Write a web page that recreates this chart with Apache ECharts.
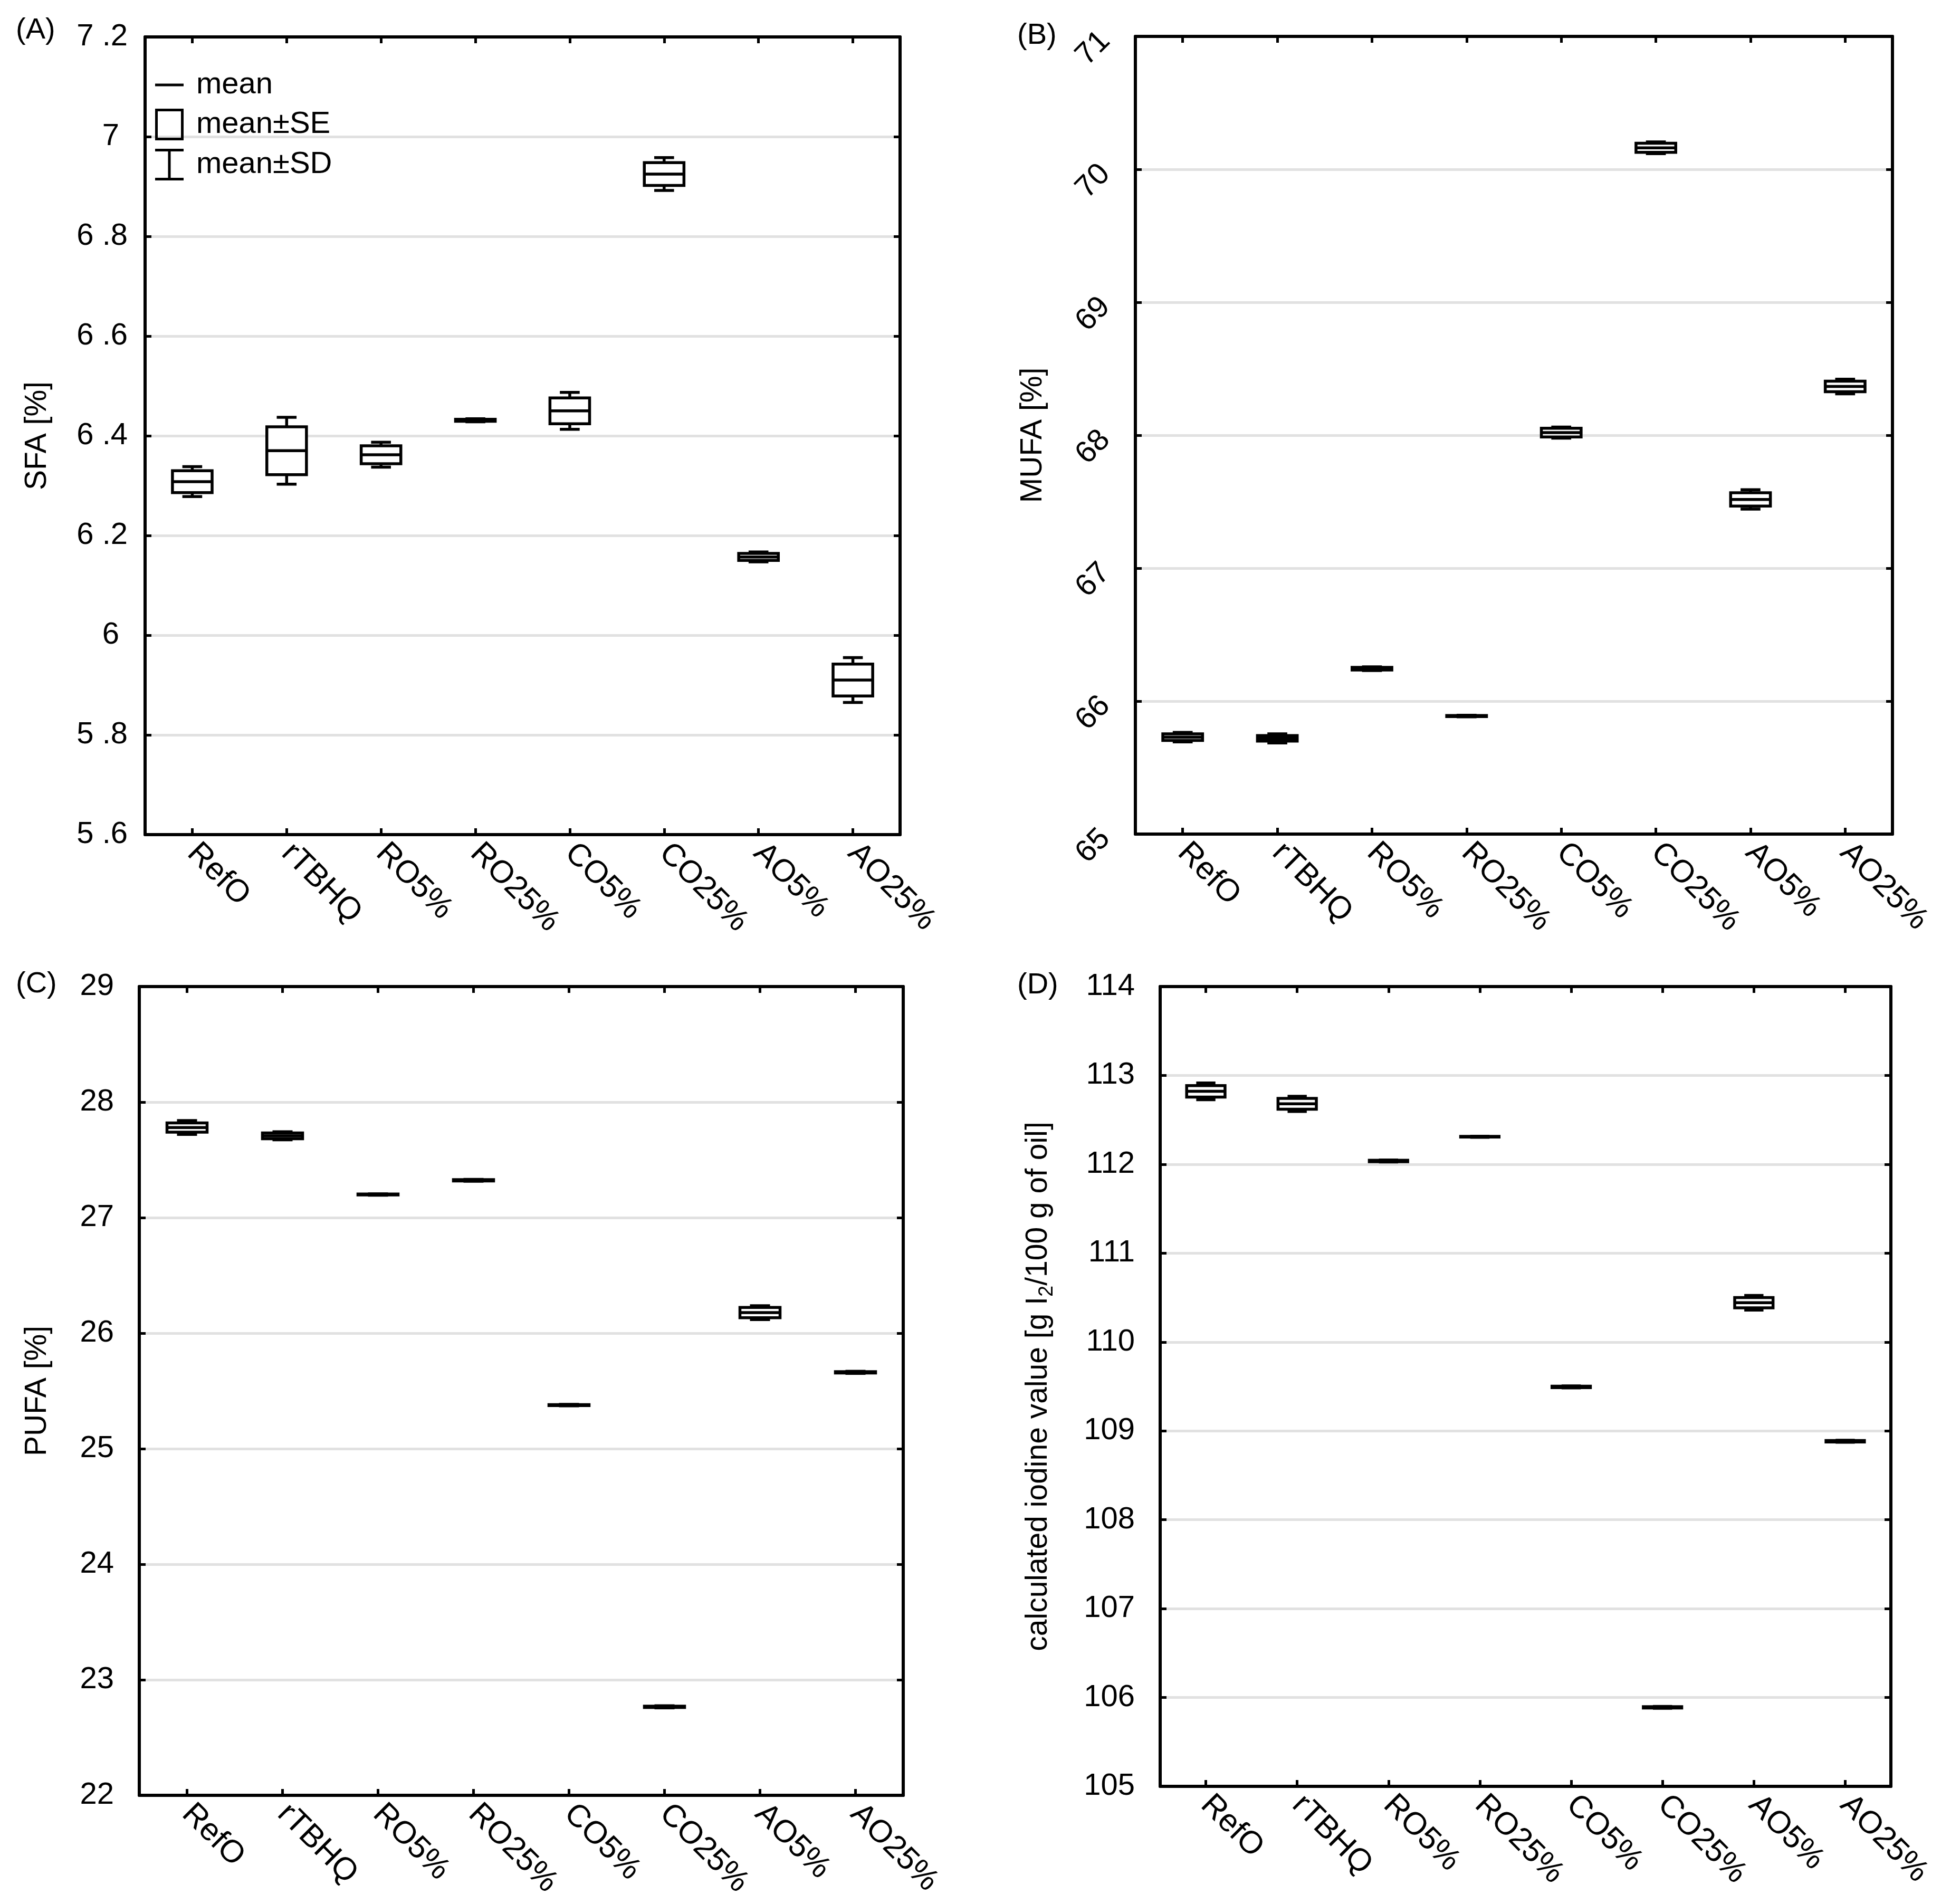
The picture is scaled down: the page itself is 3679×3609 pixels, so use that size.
<!DOCTYPE html>
<html>
<head>
<meta charset="utf-8">
<script src="https://cdn.jsdelivr.net/npm/echarts@6/dist/echarts.min.js"></script>
<style>
html,body{margin:0;padding:0;background:#fff;}
#main{width:3679px;height:3609px;}
</style>
</head>
<body>
<div id="main"></div>
<script>
// ---------------- data ----------------
const categories = ['RefO', 'rTBHQ', 'RO5%', 'RO25%', 'CO5%', 'CO25%', 'AO5%', 'AO25%'];

const sfaMean = [6.308, 6.370, 6.362, 6.431, 6.450, 6.925, 6.157, 5.910];
const sfaSE   = [0.022, 0.048, 0.018, 0.002, 0.026, 0.023, 0.007, 0.032];
const sfaSD   = [0.030, 0.067, 0.025, 0.003, 0.037, 0.033, 0.010, 0.045];

const mufaMean = [65.729, 65.720, 66.244, 65.888, 68.020, 70.162, 67.517, 68.367];
const mufaSE   = [0.025, 0.021, 0.010, 0.004, 0.033, 0.034, 0.050, 0.040];
const mufaSD   = [0.036, 0.034, 0.014, 0.006, 0.042, 0.044, 0.073, 0.055];

const pufaMean = [27.780, 27.708, 27.200, 27.323, 25.377, 22.766, 26.178, 25.661];
const pufaSE   = [0.040, 0.025, 0.004, 0.006, 0.004, 0.006, 0.045, 0.006];
const pufaSD   = [0.060, 0.035, 0.006, 0.008, 0.006, 0.009, 0.060, 0.009];

const iodMean = [112.821, 112.680, 112.037, 112.310, 109.495, 105.889, 110.442, 108.883];
const iodSE   = [0.065, 0.061, 0.008, 0.004, 0.008, 0.008, 0.058, 0.008];
const iodSD   = [0.094, 0.085, 0.011, 0.006, 0.011, 0.011, 0.082, 0.011];

const sfaTicks  = {min: 5.6, max: 7.2, interval: 0.2};
const mufaTicks = {min: 65, max: 71, interval: 1};
const pufaTicks = {min: 22, max: 29, interval: 1};
const iodTicks  = {min: 105, max: 114, interval: 1};

// ---------------- styling ----------------
const FONT = 'Liberation Sans';
const LW = 5.5;
const BOX_FRAC = 0.42;

function rows(mean, se, sd) {
  return categories.map((c, i) => [i, mean[i], se[i], sd[i]]);
}

function renderSD(params, api) {
  const x = api.value(0), m = api.value(1), se = api.value(2), sd = api.value(3);
  const band = api.size([1, 0])[0];
  const cw = band * BOX_FRAC * 0.5;
  const cx = api.coord([x, m])[0];
  const yTop = api.coord([x, m + sd])[1];
  const yBot = api.coord([x, m - sd])[1];
  const ySeT = api.coord([x, m + se])[1];
  const ySeB = api.coord([x, m - se])[1];
  const st = {stroke: '#000', lineWidth: LW, lineCap: 'butt'};
  return {type: 'group', children: [
    {type: 'line', shape: {x1: cx, y1: yTop, x2: cx, y2: ySeT}, style: st},
    {type: 'line', shape: {x1: cx, y1: yBot, x2: cx, y2: ySeB}, style: st},
    {type: 'line', shape: {x1: cx - cw / 2, y1: yTop, x2: cx + cw / 2, y2: yTop}, style: st},
    {type: 'line', shape: {x1: cx - cw / 2, y1: yBot, x2: cx + cw / 2, y2: yBot}, style: st}
  ]};
}
function renderSE(params, api) {
  const x = api.value(0), m = api.value(1), se = api.value(2);
  const band = api.size([1, 0])[0];
  const w = band * BOX_FRAC;
  const cx = api.coord([x, m])[0];
  const yT = api.coord([x, m + se])[1];
  const yB = api.coord([x, m - se])[1];
  return {type: 'rect', shape: {x: cx - w / 2, y: yT, width: w, height: yB - yT},
          style: {fill: '#fff', stroke: '#000', lineWidth: LW}};
}
function renderMean(params, api) {
  const x = api.value(0), m = api.value(1);
  const band = api.size([1, 0])[0];
  const w = band * BOX_FRAC;
  const c = api.coord([x, m]);
  return {type: 'line', shape: {x1: c[0] - w / 2, y1: c[1], x2: c[0] + w / 2, y2: c[1]},
          style: {stroke: '#000', lineWidth: LW}};
}

const grids = [
  {left: 275, top: 70, width: 1431, height: 1512},
  {left: 2152, top: 69, width: 1435, height: 1512},
  {left: 264, top: 1870, width: 1448, height: 1533},
  {left: 2199, top: 1870, width: 1385, height: 1516}
];

const panels = [
  {ticks: sfaTicks, name: 'SFA [%]', nameGap: 168, mean: sfaMean, se: sfaSE, sd: sfaSD, rotate: 0, margin: 33, pad: 0,
   fmt: v => (Math.abs(v - Math.round(v)) < 1e-9 ? String(Math.round(v)) + ' ' : v.toFixed(1).replace('.', ' .'))},
  {ticks: mufaTicks, name: 'MUFA [%]', nameGap: 158, mean: mufaMean, se: mufaSE, sd: mufaSD, rotate: 45, margin: 57, pad: [30, 0, 0, 0],
   fmt: v => String(Math.round(v))},
  {ticks: pufaTicks, name: 'PUFA [%]', nameGap: 157, mean: pufaMean, se: pufaSE, sd: pufaSD, rotate: 0, margin: 48, pad: 0,
   fmt: v => String(Math.round(v))},
  {ticks: iodTicks, name: 'calculated iodine value [g I{s|2}/100 g of oil]', nameGap: 195, mean: iodMean, se: iodSE, sd: iodSD, rotate: 0, margin: 48, pad: 0,
   fmt: v => String(Math.round(v))}
];

const xAxes = [], yAxes = [], series = [];
const axisLine = {show: true, lineStyle: {color: '#000', width: 6}};
const axisTick = {show: true, inside: true, length: 12, lineStyle: {color: '#000', width: 5}};

panels.forEach((p, g) => {
  xAxes.push({
    type: 'category', gridIndex: g, data: categories, position: 'bottom',
    axisLine, axisTick: Object.assign({alignWithLabel: true}, axisTick),
    axisLabel: {rotate: -45, fontSize: 60, color: '#000', fontFamily: FONT, margin: 26, interval: 0},
    splitLine: {show: false}
  });
  xAxes.push({
    type: 'category', gridIndex: g, data: categories, position: 'top',
    axisLine, axisTick: Object.assign({alignWithLabel: true}, axisTick),
    axisLabel: {show: false}, splitLine: {show: false}
  });
  yAxes.push({
    type: 'value', gridIndex: g, position: 'left',
    min: p.ticks.min, max: p.ticks.max, interval: p.ticks.interval,
    axisLine, axisTick,
    axisLabel: {fontSize: 58, color: '#000', fontFamily: FONT, margin: p.margin, rotate: p.rotate, padding: p.pad, formatter: p.fmt},
    splitLine: {show: true, lineStyle: {color: '#e1e1e1', width: 5}},
    name: p.name, nameLocation: 'middle', nameGap: p.nameGap,
    nameTextStyle: {fontSize: 57, color: '#000', fontFamily: FONT, lineHeight: 72,
      rich: {s: {fontSize: 38, fontFamily: FONT, color: '#000', verticalAlign: 'bottom', lineHeight: 38}}}
  });
  yAxes.push({
    type: 'value', gridIndex: g, position: 'right',
    min: p.ticks.min, max: p.ticks.max, interval: p.ticks.interval,
    axisLine, axisTick, axisLabel: {show: false}, splitLine: {show: false}
  });
  const d = rows(p.mean, p.se, p.sd);
  const common = {type: 'custom', xAxisIndex: 2 * g, yAxisIndex: 2 * g, data: d,
                  encode: {x: 0, y: 1}, itemStyle: {color: '#000'}, silent: true, animation: false};
  series.push(Object.assign({name: 'mean±SD', renderItem: renderSD}, common));
  series.push(Object.assign({name: 'mean±SE', renderItem: renderSE}, common));
  series.push(Object.assign({name: 'mean', renderItem: renderMean}, common));
});

const titles = [
  {text: '(A)', left: 30, top: 30},
  {text: '(B)', left: 1928, top: 40},
  {text: '(C)', left: 30, top: 1838},
  {text: '(D)', left: 1928, top: 1840}
].map(t => Object.assign(t, {textStyle: {fontSize: 56, fontWeight: 'normal', color: '#000', fontFamily: FONT}, padding: 0}));

const option = {
  backgroundColor: '#fff',
  animation: false,
  textStyle: {fontFamily: FONT},
  title: titles,
  legend: {
    orient: 'vertical', left: 294, top: 132, padding: 0, itemGap: 16,
    itemWidth: 54, itemHeight: 60, selectedMode: false,
    textStyle: {fontSize: 58, color: '#000', fontFamily: FONT, padding: [0, 0, 0, 19]},
    itemStyle: {borderWidth: 0},
    data: [
      {name: 'mean', icon: 'path://M0,0H54V5H0Z', itemStyle: {color: '#000', borderWidth: 0}},
      {name: 'mean±SE', icon: 'path://M0,0H54V60H0Z M5,5V55H49V5Z', itemStyle: {color: '#000', borderWidth: 0}},
      {name: 'mean±SD', icon: 'path://M0,0H54V5H29.5V55H54V60H0V55H24.5V5H0Z', itemStyle: {color: '#000', borderWidth: 0}}
    ]
  },
  grid: grids,
  xAxis: xAxes,
  yAxis: yAxes,
  series: series
};

const chart = echarts.init(document.getElementById('main'), null, {renderer: 'canvas'});
chart.setOption(option);
</script>
</body>
</html>
